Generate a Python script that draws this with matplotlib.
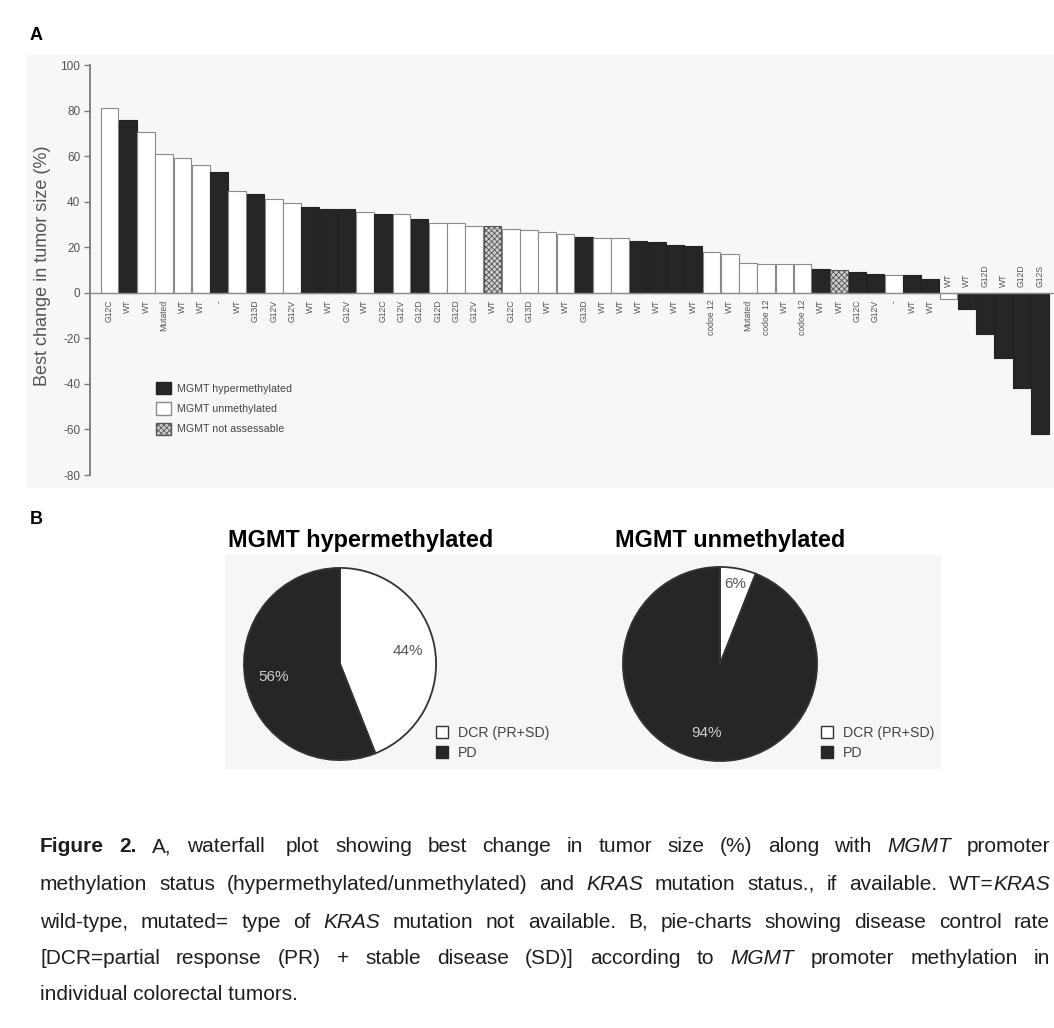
import matplotlib
matplotlib.use("Agg")
import matplotlib.pyplot as plt
from matplotlib.patches import Rectangle, Patch
import numpy as np

plt.rcParams['font.family'] = ['Liberation Sans', 'DejaVu Sans']
plt.rcParams['hatch.linewidth'] = 0.6
plt.rcParams['axes.unicode_minus'] = False

# ---------------- data ----------------
kras_labels = ["G12C", "WT", "WT", "Mutated", "WT", "WT", "-", "WT", "G13D", "G12V",
               "G12V", "WT", "WT", "G12V", "WT", "G12C", "G12V", "G12D", "G12D", "G12D",
               "G12V", "WT", "G12C", "G13D", "WT", "WT", "G13D", "WT", "WT", "WT",
               "WT", "WT", "WT", "codoe 12", "WT", "Mutated", "codoe 12", "WT", "codoe 12", "WT",
               "WT", "G12C", "G12V", "-", "WT", "WT", "WT", "WT", "G12D", "WT",
               "G12D", "G12S"]
best_change = [81.2, 75.8, 70.7, 61.0, 59.0, 56.2, 52.9, 44.8, 43.2, 41.2,
               39.3, 37.5, 36.7, 36.7, 35.4, 34.5, 34.4, 32.2, 30.7, 30.7,
               29.1, 29.1, 28.1, 27.7, 26.9, 25.9, 24.3, 24.2, 24.0, 22.7,
               22.3, 20.8, 20.4, 17.8, 17.0, 13.1, 12.5, 12.5, 12.5, 10.6,
               10.2, 9.0, 8.4, 8.0, 7.7, 6.1, -2.7, -7.1, -17.9, -28.8,
               -41.9, -62.2]
# H = hypermethylated, U = unmethylated, N = not assessable
mgmt_status = ["U", "H", "U", "U", "U", "U", "H", "U", "H", "U",
               "U", "H", "H", "H", "U", "H", "U", "H", "U", "U",
               "U", "N", "U", "U", "U", "U", "H", "U", "U", "H",
               "H", "H", "H", "U", "U", "U", "U", "U", "U", "H",
               "N", "H", "H", "U", "H", "H", "U", "H", "H", "H",
               "H", "H"]
legend_labels = ["MGMT hypermethylated", "MGMT unmethylated", "MGMT not assessable"]

pie_categories = ["DCR (PR+SD)", "PD"]
hyper_pct = [44, 56]
unmeth_pct = [6, 94]

W, H = 1054, 1028
BLACK = "#262626"
fig = plt.figure(figsize=(W / 100, H / 100), dpi=100)


def fx(px):
    return px / W


def fy(py):
    return 1 - py / H


# light panels behind the figure parts
fig.patches.append(Rectangle((fx(27), fy(487)), (W - 27) / W, (487 - 55) / H,
                             transform=fig.transFigure, color="#f7f7f7", zorder=-10))
fig.patches.append(Rectangle((fx(225), fy(768)), (940 - 225) / W, (768 - 555) / H,
                             transform=fig.transFigure, color="#f6f6f6", zorder=-10))

# ---------------- Panel A: waterfall ----------------
ax = fig.add_axes([fx(90), fy(475), (W - 90) / W, 410 / H])
ax.set_facecolor("none")
x = np.arange(len(best_change))
face = {"H": BLACK, "U": "white", "N": "#cfcfcf"}
edge = {"H": "#222222", "U": "#8a8a8a", "N": "#555555"}
bars = ax.bar(x, best_change, width=0.97,
              color=[face[s] for s in mgmt_status],
              edgecolor=[edge[s] for s in mgmt_status], linewidth=0.8, zorder=2)
for b, s in zip(bars, mgmt_status):
    if s == "N":
        b.set_hatch("xxxxxx")

ax.axhline(0, color="#8c8c8c", lw=1.0, zorder=3)
ax.set_xlim(-1.07, 51.78)
ax.set_ylim(-80, 100)
ax.set_yticks(np.arange(-80, 101, 20))
ax.set_xticks([])
for s in ["top", "right", "bottom"]:
    ax.spines[s].set_visible(False)
ax.spines["left"].set_color("#7a7a7a")
ax.spines["left"].set_linewidth(1.3)
ax.tick_params(axis="y", direction="out", length=4, width=1.0, color="#7a7a7a",
               labelsize=8.5, labelcolor="#555555", pad=3)

for i, (lab, v) in enumerate(zip(kras_labels, best_change)):
    if v >= 0:
        ax.annotate(lab, (i, 0), xytext=(0, -5), textcoords="offset points",
                    rotation=90, ha="center", va="top", fontsize=6.2, color="#555555")
    else:
        ax.annotate(lab, (i, 0), xytext=(0, 4), textcoords="offset points",
                    rotation=90, ha="center", va="bottom", fontsize=6.2, color="#555555")

fig.text(fx(43), fy(266), "Best change in tumor size (%)", rotation=90,
         ha="center", va="center", fontsize=13, color="#555555")

handles = [Patch(facecolor=face[k], edgecolor=edge[k], hatch=("xxxxxx" if k == "N" else None))
           for k in ["H", "U", "N"]]
ax.legend(handles, legend_labels, loc="upper left", bbox_to_anchor=(fx(156), fy(382)),
          bbox_transform=fig.transFigure, frameon=False, fontsize=7.7,
          handlelength=1.4, handleheight=1.4, labelspacing=0.75, handletextpad=0.55,
          borderpad=0, borderaxespad=0, labelcolor="#444444")

fig.text(fx(30), fy(35), "A", fontweight="bold", fontsize=13, ha="left", va="center")
fig.text(fx(30), fy(520), "B", fontweight="bold", fontsize=13, ha="left", va="center")

# ---------------- Panel B: pies ----------------
def draw_pie(cx, cy, r, values, dists, title, txtcolors, legx):
    pax = fig.add_axes([fx(cx - r), fy(cy + r), 2 * r / W, 2 * r / H])
    wedges, _, autotexts = pax.pie(values, colors=["white", BLACK], startangle=90,
                                   counterclock=False,
                                   wedgeprops=dict(edgecolor="#333333", linewidth=1.3),
                                   autopct=lambda p: f"{p:.0f}%", pctdistance=0.72,
                                   textprops=dict(fontsize=11))
    for w, t, d, c in zip(wedges, autotexts, dists, txtcolors):
        mid = np.deg2rad((w.theta1 + w.theta2) / 2)
        t.set_position((d * np.cos(mid), d * np.sin(mid)))
        t.set_color(c)
    pax.set_xlim(-1.02, 1.02)
    pax.set_ylim(-1.02, 1.02)
    pax.set_aspect("equal")
    for w in wedges:
        w.set_clip_on(False)
    fig.text(fx(cx + (title[1])), fy(541), title[0], ha="center", va="center",
             fontsize=16.8, fontweight="bold")
    lh = [Patch(facecolor="white", edgecolor="#333333"), Patch(facecolor=BLACK, edgecolor=BLACK)]
    pax.legend(lh, pie_categories, loc="upper left", bbox_to_anchor=(fx(legx), fy(726)),
               bbox_transform=fig.transFigure, frameon=False, fontsize=10.2,
               handlelength=0.85, handleheight=0.85, labelspacing=0.42,
               handletextpad=0.7, borderpad=0, borderaxespad=0, labelcolor="#444444")


draw_pie(340, 664, 98, hyper_pct, [0.72, 0.70], ("MGMT hypermethylated", 21),
         ["#555555", "#cccccc"], 436)
draw_pie(720, 664, 99, unmeth_pct, [0.84, 0.72], ("MGMT unmethylated", 10),
         ["#555555", "#cccccc"], 821)

# ---------------- caption ----------------
cap_lines = [
    [[("Figure", "b")], [("2.", "b")], [("A,", "n")], [("waterfall ", "n")], [("plot", "n")],
     [("showing", "n")], [("best", "n")], [("change", "n")], [("in", "n")], [("tumor", "n")],
     [("size", "n")], [("(%)", "n")], [("along", "n")], [("with", "n")], [("MGMT", "i")],
     [("promoter", "n")]],
    [[("methylation", "n")], [("status", "n")], [("(hypermethylated/unmethylated)", "n")],
     [("and", "n")], [("KRAS", "i")], [("mutation", "n")], [("status.,", "n")], [("if", "n")],
     [("available.", "n")], [("WT=", "n"), ("KRAS", "i")]],
    [[("wild-type,", "n")], [("mutated=", "n")], [("type", "n")], [("of", "n")], [("KRAS", "i")],
     [("mutation", "n")], [("not", "n")], [("available.", "n")], [("B,", "n")],
     [("pie-charts", "n")], [("showing", "n")], [("disease", "n")], [("control", "n")],
     [("rate", "n")]],
    [[("[DCR=partial", "n")], [("response", "n")], [("(PR)", "n")], [("+", "n")],
     [("stable", "n")], [("disease", "n")], [("(SD)]", "n")], [("according", "n")],
     [("to", "n")], [("MGMT", "i")], [("promoter", "n")], [("methylation", "n")],
     [("in", "n")]],
]
cap_y = [847, 885, 922, 958]
renderer = fig.canvas.get_renderer()
x_left, x_right = 40, 1050
cap_fs = 15
for words, ypx in zip(cap_lines, cap_y):
    objs = []
    widths = []
    for word in words:
        segs = []
        wsum = 0
        for txt, st in word:
            t = fig.text(0, fy(ypx), txt, fontsize=cap_fs, va="center", ha="left",
                         color="#1e1e1e",
                         fontweight=("bold" if st == "b" else "normal"),
                         fontstyle=("italic" if st == "i" else "normal"))
            bb = t.get_window_extent(renderer)
            segs.append((t, bb.width))
            wsum += bb.width
        objs.append(segs)
        widths.append(wsum)
    gap = (x_right - x_left - sum(widths)) / (len(words) - 1)
    cur = x_left
    for segs, wsum in zip(objs, widths):
        c2 = cur
        for t, w in segs:
            t.set_x(fx(c2))
            c2 += w
        cur += wsum + gap

fig.text(fx(40), fy(995), "individual colorectal tumors.", fontsize=cap_fs, va="center",
         ha="left", color="#1e1e1e")

fig.savefig("out.png", dpi=100)
